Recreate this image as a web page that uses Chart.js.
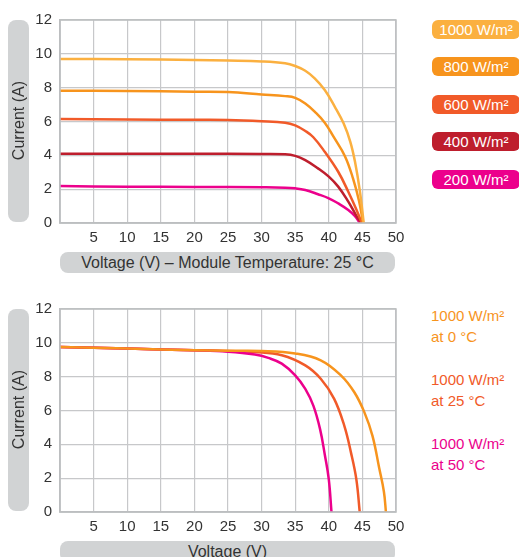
<!DOCTYPE html>
<html>
<head>
<meta charset="utf-8">
<script src="https://cdn.jsdelivr.net/npm/chart.js@4"></script>
<style>
  body { margin: 0; background: #fff; font-family: "Liberation Sans", Arial, sans-serif; color: #333; }
  .wrap { position: relative; width: 519px; height: 557px; overflow: hidden; }
  .box { position: absolute; }
  .ytitle { position: absolute; left: 8px; width: 21px; background: #d1d3d4; border-radius: 8px;
            display: flex; align-items: center; justify-content: center; }
  .ytitle span { writing-mode: vertical-rl; transform: rotate(180deg); font-size: 16px; white-space: nowrap; color: #333; }
  .xtitle { position: absolute; left: 60px; width: 335px; height: 21px; background: #d1d3d4; border-radius: 8px;
            text-align: center; font-size: 16px; line-height: 22px; color: #333; white-space: nowrap; }
  .pill { position: absolute; left: 432px; width: 88px; height: 19px; border-radius: 6px; color: #fff;
          font-size: 15px; line-height: 20px; text-align: center; white-space: nowrap; }
  .lab { position: absolute; left: 431px; font-size: 15px; line-height: 21px; white-space: nowrap; }
</style>
</head>
<body>
<div class="wrap">
  <div class="box" style="left:0;top:0;width:420px;height:250px;"><canvas id="chartIrr"></canvas></div>
  <div class="box" style="left:0;top:289px;width:420px;height:250px;"><canvas id="chartTemp"></canvas></div>

  <div class="ytitle" style="top:20px;height:202px;"><span>Current (A)</span></div>
  <div class="xtitle" style="top:252px;">Voltage (V) – Module Temperature: 25 °C</div>
  <div class="ytitle" style="top:309px;height:202px;"><span>Current (A)</span></div>
  <div class="xtitle" style="top:541px;">Voltage (V)</div>

  <div id="legendIrr"></div>
  <div id="legendTemp"></div>
</div>

<script>
// top chart: different irradiance at 25 °C
const irrLabels = ['1000 W/m²', '800 W/m²', '600 W/m²', '400 W/m²', '200 W/m²'];
const irrColors = ['#fbb040', '#f7941d', '#f15a29', '#be1e2d', '#ec008c'];

const v1000 = [0, 10, 20, 25, 30, 33.5, 35, 36.5, 37.9, 39.4, 40.9, 42.2, 43.2, 43.9, 44.6, 45.2];
const i1000 = [9.7, 9.68, 9.63, 9.6, 9.55, 9.44, 9.28, 9.0, 8.55, 7.86, 6.87, 5.89, 4.8, 3.62, 1.95, 0];
const v800 = [0, 10, 20, 25, 30, 33.5, 35, 36.5, 37.9, 39.4, 40.7, 42.4, 43.6, 44.5, 45.1];
const i800 = [7.82, 7.8, 7.76, 7.74, 7.6, 7.5, 7.4, 7.07, 6.58, 5.93, 5.1, 3.95, 2.64, 1.3, 0];
const v600 = [0, 10, 20, 25, 30, 33.5, 35, 36.5, 37.7, 39.4, 41.4, 42.9, 44.1, 44.9];
const i600 = [6.15, 6.12, 6.1, 6.09, 6.02, 5.93, 5.77, 5.44, 5.07, 4.21, 3.03, 1.85, 0.8, 0];
const v400 = [0, 10, 20, 30, 33.5, 35, 36.5, 38.4, 40, 41.4, 42.9, 44, 44.8];
const i400 = [4.1, 4.1, 4.09, 4.08, 4.06, 3.97, 3.72, 3.23, 2.74, 2.15, 1.26, 0.5, 0];
const v200 = [0, 10, 20, 30, 33.5, 35, 36.5, 38.4, 40, 41.4, 42.9, 43.9, 44.6];
const i200 = [2.18, 2.15, 2.13, 2.11, 2.09, 2.05, 1.95, 1.7, 1.46, 1.16, 0.77, 0.4, 0];

// bottom chart: 1000 W/m² at different temperatures
const tempLabels = [['1000 W/m²', 'at 0 °C'], ['1000 W/m²', 'at 25 °C'], ['1000 W/m²', 'at 50 °C']];
const tempColors = ['#f7941d', '#f15a29', '#ec008c'];

const vT0 = [0, 10, 20, 25, 30, 35, 38.8, 41.8, 43.8, 45.3, 46.5, 47.5, 48.2, 48.5];
const iT0 = [9.76, 9.66, 9.56, 9.53, 9.52, 9.37, 8.97, 8.08, 7.08, 5.89, 4.5, 2.6, 1.2, 0];
const vT25 = [0, 10, 20, 25, 29, 33, 36.5, 38.8, 40.8, 42.3, 43.3, 44.1, 44.6];
const iT25 = [9.76, 9.66, 9.56, 9.52, 9.46, 9.27, 8.67, 7.88, 6.69, 5.1, 3.51, 1.93, 0];
const vT50 = [0, 10, 20, 25, 29, 31, 33, 35, 36.5, 37.7, 38.7, 39.4, 40, 40.4];
const iT50 = [9.76, 9.66, 9.56, 9.48, 9.31, 9.11, 8.77, 8.08, 7.28, 6.29, 4.9, 3.4, 1.93, 0];

const xTicks = [0, 5, 10, 15, 20, 25, 30, 35, 40, 45, 50];
const yTicks = [0, 2, 4, 6, 8, 10, 12];

function toPoints(xs, ys) {
    return xs.map((x, i) => ({ x: x, y: ys[i] }));
}

function makeChart(id, series, colors) {
    const ctx = document.getElementById(id).getContext('2d');
    return new Chart(ctx, {
        type: 'scatter',
        data: {
            datasets: series.map((s, i) => ({
                data: toPoints(s[0], s[1]),
                showLine: true,
                borderColor: colors[i],
                backgroundColor: colors[i],
                borderWidth: 2.5,
                pointRadius: 0,
                tension: 0.4
            }))
        },
        options: {
            responsive: true,
            maintainAspectRatio: false,
            animation: false,
            layout: { padding: { top: 20, right: 24, left: 0, bottom: 0 } },
            plugins: { legend: { display: false }, tooltip: { enabled: false } },
            scales: {
                x: {
                    type: 'linear', min: 0, max: 50,
                    afterBuildTicks: s => { s.ticks = xTicks.map(v => ({ value: v })); },
                    afterFit: s => { s.height = 27; },
                    ticks: {
                        padding: 6, color: '#333',
                        font: { family: 'Liberation Sans', size: 15 },
                        callback: v => v === 0 ? '' : v
                    },
                    grid: { color: '#c7c8ca', lineWidth: 1.2, drawTicks: false },
                    border: { color: '#bcbec0', width: 1.5 }
                },
                y: {
                    type: 'linear', min: 0, max: 12,
                    afterBuildTicks: s => { s.ticks = yTicks.map(v => ({ value: v })); },
                    afterFit: s => { s.width = 60; },
                    ticks: {
                        padding: 8, color: '#333',
                        font: { family: 'Liberation Sans', size: 15 }
                    },
                    grid: { color: '#c7c8ca', lineWidth: 1.2, drawTicks: false },
                    border: { color: '#bcbec0', width: 1.5 }
                }
            }
        },
        plugins: [{
            id: 'frame',
            afterDraw(chart) {
                const a = chart.chartArea, c = chart.ctx;
                c.save();
                c.strokeStyle = '#bcbec0';
                c.lineWidth = 1.5;
                c.strokeRect(a.left, a.top, a.right - a.left, a.bottom - a.top);
                c.restore();
            }
        }]
    });
}

makeChart('chartIrr',
    [[v1000, i1000], [v800, i800], [v600, i600], [v400, i400], [v200, i200]],
    irrColors);
makeChart('chartTemp',
    [[vT0, iT0], [vT50, iT50], [vT25, iT25]],
    [tempColors[0], tempColors[2], tempColors[1]]);

// legends
const legendIrr = document.getElementById('legendIrr');
irrLabels.forEach((t, i) => {
    const d = document.createElement('div');
    d.className = 'pill';
    d.style.top = (19.5 + i * 37.6) + 'px';
    d.style.background = irrColors[i];
    d.textContent = t;
    legendIrr.appendChild(d);
});

const legendTemp = document.getElementById('legendTemp');
tempLabels.forEach((t, i) => {
    const d = document.createElement('div');
    d.className = 'lab';
    d.style.top = (305 + i * 64) + 'px';
    d.style.color = tempColors[i];
    d.innerHTML = t.join('<br>');
    legendTemp.appendChild(d);
});
</script>
</body>
</html>
